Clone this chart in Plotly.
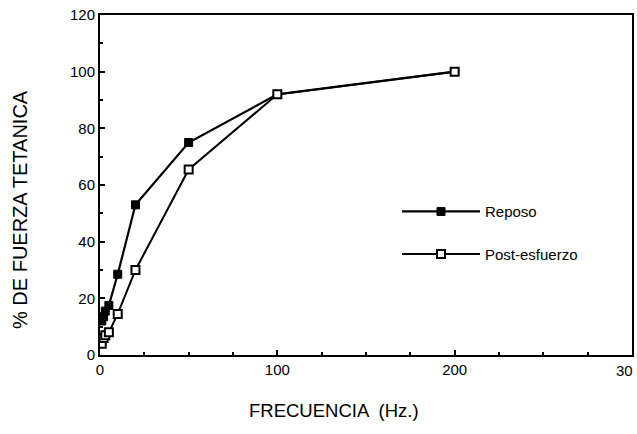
import plotly.graph_objects as go

freq = [1, 2, 3, 5, 10, 20, 50, 100, 200]
reposo = [12, 13.5, 15.5, 17.5, 28.5, 53, 75, 92, 100]
post_esfuerzo = [4, 6, 7, 8, 14.5, 30, 65.5, 92, 100]
x_ticks = [0, 100, 200, 300]
x_ticklabels = ["0", "100", "200", ""]
last_x_label = "30"
y_ticks = [0, 20, 40, 60, 80, 100, 120]

fig = go.Figure()
fig.add_trace(go.Scatter(
    x=freq, y=reposo, name="Reposo", mode="lines+markers", legendgroup="a",
    line=dict(color="black", width=2.2),
    marker=dict(symbol="square", size=8, color="black", line=dict(color="black", width=1)),
))
fig.add_trace(go.Scatter(
    x=freq, y=post_esfuerzo, name="Post-esfuerzo", mode="lines+markers", legendgroup="b",
    line=dict(color="black", width=2),
    marker=dict(symbol="square", size=8, color="white", line=dict(color="black", width=2)),
))

font = "Liberation Sans, Arial, sans-serif"
fig.update_layout(
    width=637, height=434,
    margin=dict(l=100, r=5, t=15, b=79),
    paper_bgcolor="white", plot_bgcolor="white",
    font=dict(family=font, size=15, color="black"),
    showlegend=True,
    legend=dict(x=(397 - 100) / 532, y=0.47, xanchor="left", yanchor="top",
                bgcolor="rgba(0,0,0,0)", font=dict(size=15),
                tracegroupgap=20, itemwidth=78),
    xaxis=dict(range=[0, 300], tickvals=x_ticks, ticktext=x_ticklabels,
               ticks="inside", ticklen=5, tickwidth=1.5, tickcolor="black",
               automargin=False,
               showline=True, linecolor="black", linewidth=2, mirror=True,
               showgrid=False, zeroline=False,
               minor=dict(dtick=25, ticks="inside", ticklen=3, tickcolor="black")),
    yaxis=dict(range=[0, 120], tickvals=y_ticks, automargin=False,
               ticks="inside", ticklen=5, tickwidth=1.5, tickcolor="black",
               showline=True, linecolor="black", linewidth=2, mirror=True,
               showgrid=False, zeroline=False,
               minor=dict(dtick=10, ticks="inside", ticklen=3, tickcolor="black")),
    annotations=[
        dict(text=last_x_label, xref="x", yref="paper", x=x_ticks[-1], y=0,
             xanchor="right", yanchor="middle", xshift=3, yshift=-15,
             showarrow=False, font=dict(size=15)),
        dict(text="FRECUENCIA  (Hz.)", xref="paper", yref="paper",
             x=(334 - 100) / 532, y=-(410 - 355) / 340, xanchor="center", yanchor="middle",
             showarrow=False, font=dict(size=18.5)),
        dict(text="% DE FUERZA TETANICA", xref="paper", yref="paper",
             x=-(100 - 20) / 532, y=(355 - 210) / 340, xanchor="center", yanchor="middle",
             textangle=-90, showarrow=False, font=dict(size=20)),
    ],
)
fig.write_html("out.html")
